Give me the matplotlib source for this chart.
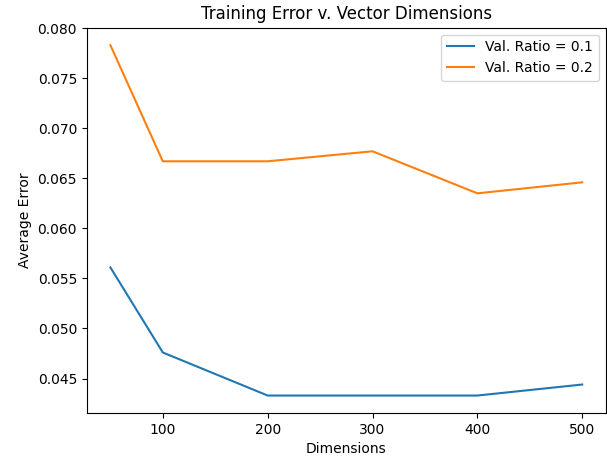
import matplotlib.pyplot as plt

dims = [50, 100, 200, 300, 400, 500]
err_01 = [0.0561, 0.0476, 0.0433, 0.0433, 0.0433, 0.0444]
err_02 = [0.0783, 0.0667, 0.0667, 0.0677, 0.0635, 0.0646]

fig = plt.figure(figsize=(6.07, 4.61), dpi=100)
ax = fig.add_axes([0.143, 0.104, 0.855, 0.836])

ax.plot(dims, err_01, label="Val. Ratio = 0.1")
ax.plot(dims, err_02, label="Val. Ratio = 0.2")

ax.set_title("Training Error v. Vector Dimensions")
ax.set_xlabel("Dimensions")
ax.set_ylabel("Average Error")
ax.legend()

fig.savefig("out.png", dpi=100)
